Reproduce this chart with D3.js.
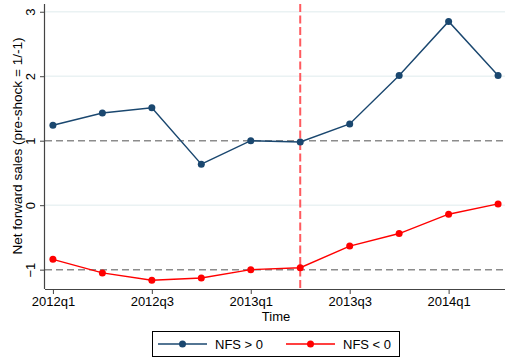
<!DOCTYPE html>
<html>
<head>
<meta charset="utf-8">
<script src="https://cdn.jsdelivr.net/npm/d3@7"></script>
<style>
  html, body { margin: 0; padding: 0; background: #fff; }
  svg { display: block; font-family: "Liberation Sans", Arial, sans-serif; }
</style>
</head>
<body>
<svg id="chart" width="505" height="360"></svg>
<script>
// Quarterly net forward sales, normalised so the pre-shock quarter = 1 / -1
const quarters = ["2012q1","2012q2","2012q3","2012q4","2013q1","2013q2","2013q3","2013q4","2014q1","2014q2"];
const nfsPositive = [1.24, 1.43, 1.51, 0.635, 1.00, 0.98, 1.26, 2.01, 2.85, 2.01];
const nfsNegative = [-0.84, -1.05, -1.165, -1.13, -1.00, -0.97, -0.635, -0.44, -0.14, 0.02];
const yTicks = [-1, 0, 1, 2, 3];
const xTickLabels = ["2012q1","2012q3","2013q1","2013q3","2014q1"];
const refLines = [1, -1];
const shockQuarter = "2013q2";
const seriesNames = ["NFS > 0", "NFS < 0"];
const seriesColors = ["#1a476f", "#ff0000"];

const svg = d3.select("#chart");
const plotLeft = 45, plotRight = 505, plotTop = 4, plotBottom = 289;

const x = d3.scaleLinear().domain([-0.16, 9.14]).range([plotLeft, plotRight]);
const y = d3.scaleLinear().domain([-1.3, 3.12]).range([plotBottom, plotTop]);
const qi = q => quarters.indexOf(q);

// light gridlines
svg.append("g").selectAll("line")
  .data(yTicks.filter(v => !refLines.includes(v)))
  .join("line")
  .attr("x1", plotLeft).attr("x2", plotRight)
  .attr("y1", d => y(d)).attr("y2", d => y(d))
  .attr("stroke", "#eaf2f3").attr("stroke-width", 1.5);

// dashed reference lines at 1 and -1
svg.append("g").selectAll("line")
  .data(refLines)
  .join("line")
  .attr("x1", plotLeft).attr("x2", plotRight)
  .attr("y1", d => y(d)).attr("y2", d => y(d))
  .attr("stroke", "#8c8c8c").attr("stroke-width", 1.5)
  .attr("stroke-dasharray", "7,4");

// shock marker
svg.append("line")
  .attr("x1", x(qi(shockQuarter))).attr("x2", x(qi(shockQuarter)))
  .attr("y1", plotTop).attr("y2", plotBottom)
  .attr("stroke", "#ff5a5f").attr("stroke-width", 2)
  .attr("stroke-dasharray", "8,3.5");

// series
const seriesData = [nfsPositive, nfsNegative];
const line = d3.line().x((d, i) => x(i)).y(d => y(d));
seriesData.forEach((vals, s) => {
  const g = svg.append("g");
  g.append("path").datum(vals)
    .attr("d", line).attr("fill", "none")
    .attr("stroke", seriesColors[s]).attr("stroke-width", 1.4);
  g.selectAll("circle").data(vals).join("circle")
    .attr("cx", (d, i) => x(i)).attr("cy", d => y(d))
    .attr("r", 3.5).attr("fill", seriesColors[s]);
});

// y axis
const yAxis = d3.axisLeft(y).tickValues(yTicks).tickSize(5).tickPadding(4)
  .tickFormat(d3.format("d"));
const ya = svg.append("g").attr("transform", `translate(${plotLeft},0)`).call(yAxis);
ya.select(".domain").attr("d", `M-0.5,${plotTop}V${plotBottom}`).attr("stroke", "#444").attr("stroke-width", 1.2);
ya.selectAll(".tick line").attr("stroke", "#444");
ya.selectAll(".tick text")
  .attr("font-size", 13).attr("fill", "#000")
  .attr("text-anchor", "middle")
  .attr("transform", "translate(-15,0) rotate(-90)")
  .attr("x", 0).attr("dy", "0.35em");

// x axis
const xAxis = d3.axisBottom(x)
  .tickValues(xTickLabels.map(qi)).tickSize(5).tickPadding(3)
  .tickFormat(i => quarters[i]);
const xa = svg.append("g").attr("transform", `translate(0,${plotBottom})`).call(xAxis);
xa.select(".domain").attr("d", `M${plotLeft},0.5H${plotRight}`).attr("stroke", "#444").attr("stroke-width", 1.2);
xa.selectAll(".tick line").attr("stroke", "#444");
xa.selectAll(".tick text").attr("font-size", 13).attr("fill", "#000");

// axis titles
svg.append("text").attr("x", (plotLeft + plotRight) / 2 + 1).attr("y", 321)
  .attr("text-anchor", "middle").attr("font-size", 13).text("Time");
svg.append("text")
  .attr("transform", "translate(22,146) rotate(-90)")
  .attr("text-anchor", "middle").attr("font-size", 13.6)
  .text("Net forward sales (pre-shock = 1/-1)");

// legend
const lg = svg.append("g");
lg.append("rect").attr("x", 152.5).attr("y", 331.5).attr("width", 247).attr("height", 25)
  .attr("fill", "#fff").attr("stroke", "#000").attr("stroke-width", 1);
const legendX = [158, 286];
seriesNames.forEach((name, s) => {
  const lx = legendX[s];
  lg.append("line").attr("x1", lx).attr("x2", lx + 49).attr("y1", 344).attr("y2", 344)
    .attr("stroke", seriesColors[s]).attr("stroke-width", 1.4);
  lg.append("circle").attr("cx", lx + 24.5).attr("cy", 344).attr("r", 3.5).attr("fill", seriesColors[s]);
  lg.append("text").attr("x", lx + 57).attr("y", 349).attr("font-size", 13).text(name);
});
</script>
</body>
</html>
